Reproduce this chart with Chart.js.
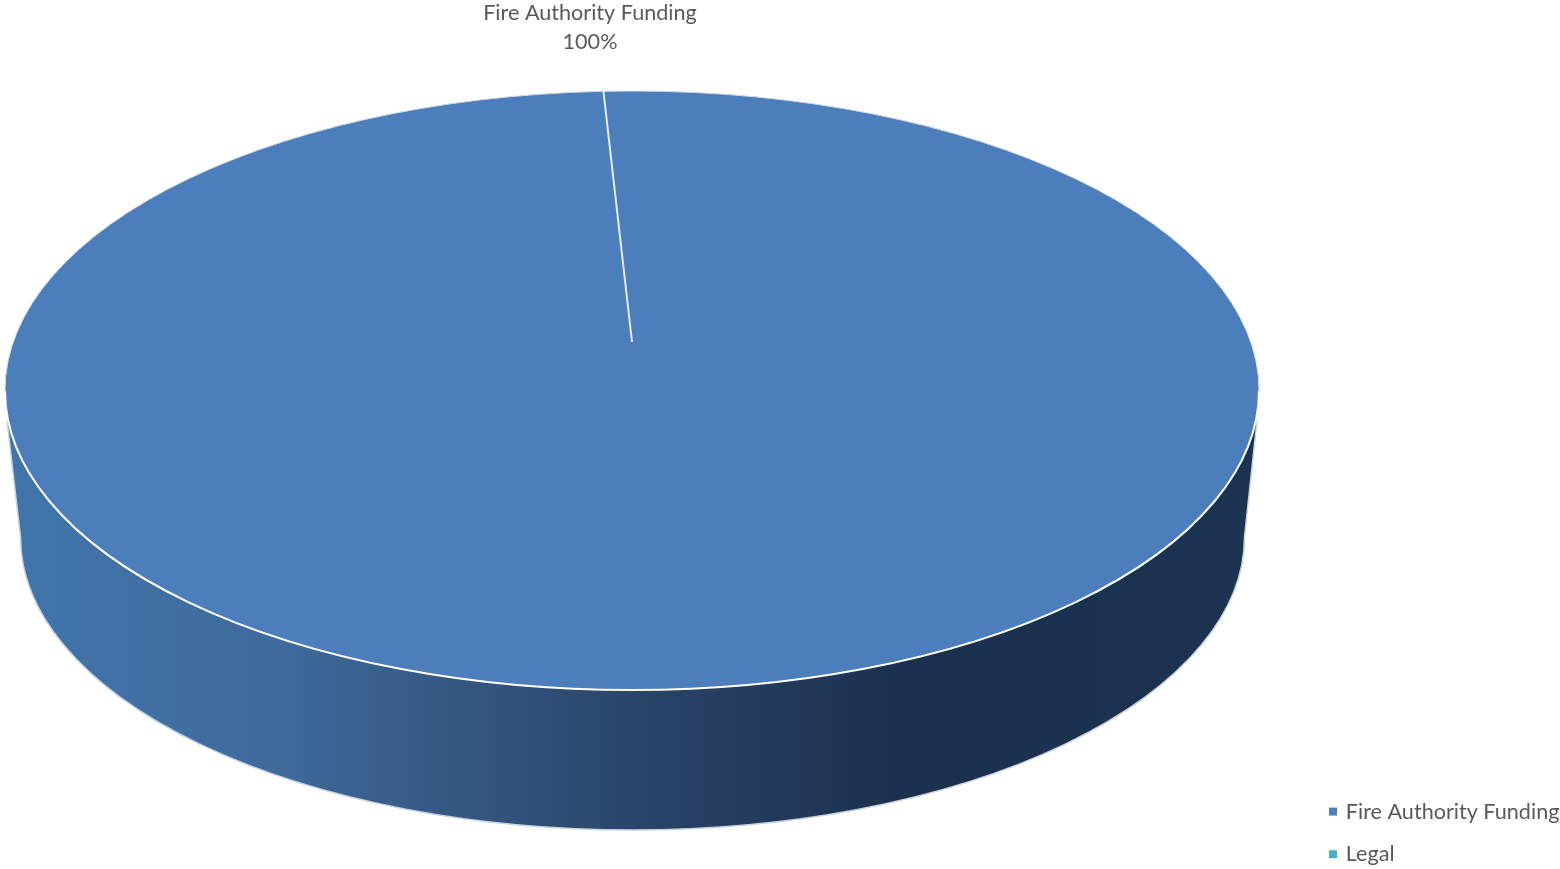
<!DOCTYPE html>
<html>
<head>
<meta charset="utf-8">
<title>Funding</title>
<script src="https://cdn.jsdelivr.net/npm/chart.js@4/dist/chart.umd.min.js"></script>
<style>
  html, body { margin: 0; padding: 0; background: #fff; overflow: hidden; }
  canvas { display: block; }
</style>
</head>
<body>
<canvas id="pieChart" width="1560" height="869"></canvas>
<script>
const categories = ['Fire Authority Funding', 'Legal'];
const shares = [99.995, 0.005];
const sliceColors = ['#4b7ebb', '#4aacc5'];

// the pie is tilted: top face and base are ellipses on the page
const top3d = { x: 632, y: 390.5, rx: 627, ry: 299.5 };
const base3d = { x: 632.5, y: 537, rx: 612, ry: 293 };
const apex = { x: 632, y: 342 };

const textColor = '#595959';
const textFont = '21.6px Lato';

const tiltedPie = {
    id: 'tiltedPie',
    afterLayout(chart) {
        // legend sits in the bottom right corner
        chart.legend.left = 1310;
        chart.legend.top += 17;
        chart.legend.bottom += 17;
    },
    beforeDatasetDraw(chart) {
        const ctx = chart.ctx;
        const arc = chart.getDatasetMeta(0).data[0];

        // side wall
        const wall = ctx.createLinearGradient(base3d.x - base3d.rx, 0, base3d.x + base3d.rx, 0);
        wall.addColorStop(0, '#4175aa');
        wall.addColorStop(0.2, '#3f6b9c');
        wall.addColorStop(0.5, '#2a4569');
        wall.addColorStop(0.72, '#1b304f');
        wall.addColorStop(1, '#1b3251');
        ctx.save();
        ctx.beginPath();
        ctx.moveTo(top3d.x - top3d.rx + 2, top3d.y + 30);
        ctx.lineTo(base3d.x - base3d.rx, base3d.y);
        ctx.ellipse(base3d.x, base3d.y, base3d.rx, base3d.ry, 0, Math.PI, 0, true);
        ctx.lineTo(top3d.x + top3d.rx - 2, top3d.y + 30);
        ctx.closePath();
        ctx.fillStyle = wall;
        ctx.fill();
        ctx.strokeStyle = '#c9d3de';
        ctx.lineWidth = 1.5;
        ctx.stroke();

        // solid face under the slices, so no hairline shows where they join
        ctx.fillStyle = sliceColors[0];
        ctx.beginPath();
        ctx.ellipse(top3d.x, top3d.y, top3d.rx, top3d.ry, 0, 0, Math.PI * 2);
        ctx.fill();
        ctx.restore();

        // squash the library's circle onto the top face
        ctx.save();
        ctx.translate(top3d.x, top3d.y);
        ctx.scale(top3d.rx / arc.outerRadius, top3d.ry / arc.outerRadius);
        ctx.translate(-arc.x, -arc.y);
    },
    afterDatasetDraw(chart) {
        const ctx = chart.ctx;
        const arc = chart.getDatasetMeta(0).data[0];
        ctx.restore();

        // rim
        ctx.save();
        ctx.strokeStyle = '#d5dde6';
        ctx.lineWidth = 1;
        ctx.beginPath();
        ctx.ellipse(top3d.x, top3d.y, top3d.rx, top3d.ry, 0, Math.PI, 0);
        ctx.stroke();
        ctx.strokeStyle = '#ffffff';
        ctx.lineWidth = 2;
        ctx.beginPath();
        ctx.ellipse(top3d.x, top3d.y, top3d.rx, top3d.ry, 0, 0, Math.PI);
        ctx.stroke();

        // seam between the slices, at the angle the library gave the first slice
        ctx.strokeStyle = '#e4ebf3';
        ctx.lineWidth = 2;
        ctx.beginPath();
        ctx.moveTo(apex.x, apex.y);
        ctx.lineTo(top3d.x + top3d.rx * Math.cos(arc.startAngle), top3d.y + 1.013 * top3d.ry * Math.sin(arc.startAngle));
        ctx.stroke();
        ctx.restore();
    },
    afterDraw(chart) {
        const ctx = chart.ctx;
        const data = chart.data.datasets[0].data;
        const total = data.reduce((a, b) => a + b, 0);
        ctx.save();
        ctx.font = textFont;
        ctx.fillStyle = textColor;
        ctx.textAlign = 'center';
        ctx.textBaseline = 'middle';
        ctx.fillText(categories[0], 590, 13);
        ctx.fillText(Math.round(data[0] / total * 100) + '%', 590, 42);
        ctx.restore();
    }
};

new Chart(document.getElementById('pieChart').getContext('2d'), {
    type: 'pie',
    data: {
        labels: categories,
        datasets: [{
            data: shares,
            backgroundColor: sliceColors,
            borderWidth: 0
        }]
    },
    options: {
        responsive: false,
        animation: false,
        rotation: -2.65,
        plugins: {
            tooltip: { enabled: false },
            legend: {
                position: 'right',
                align: 'end',
                labels: {
                    usePointStyle: true,
                    pointStyle: 'rect',
                    boxWidth: 4,
                    boxHeight: 8,
                    padding: 21,
                    color: textColor,
                    font: { family: 'Lato', size: 21.6 }
                }
            }
        }
    },
    plugins: [tiltedPie]
});
</script>
</body>
</html>
